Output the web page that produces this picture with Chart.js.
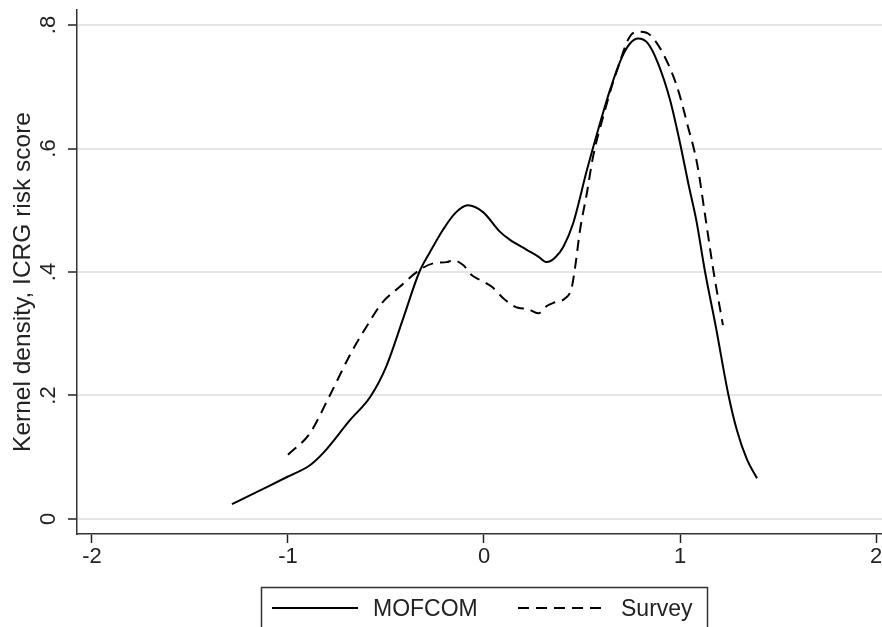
<!DOCTYPE html>
<html>
<head>
<meta charset="utf-8">
<script src="https://cdn.jsdelivr.net/npm/chart.js@4.4.1/dist/chart.umd.min.js"></script>
<style>
  html, body { margin: 0; padding: 0; background: #fff; }
  #wrap { width: 882px; height: 627px; }
</style>
</head>
<body>
<div id="wrap"><canvas id="densityChart"></canvas></div>
<script>
// Kernel density of ICRG risk score, MOFCOM vs Survey samples
const mofcomX = [-1.286, -1.158, -1.005, -0.888, -0.82, -0.684, -0.58, -0.50, -0.41, -0.33, -0.276, -0.21, -0.148, -0.082, -0.005, 0.082, 0.133, 0.218, 0.277, 0.32, 0.362, 0.405, 0.455, 0.525, 0.582, 0.643, 0.704, 0.745, 0.786, 0.837, 0.888, 0.949, 1.0, 1.046, 1.083, 1.128, 1.183, 1.245, 1.29, 1.342, 1.393];
const mofcomY = [0.024, 0.044, 0.068, 0.087, 0.107, 0.16, 0.198, 0.246, 0.327, 0.40, 0.432, 0.468, 0.495, 0.508, 0.497, 0.465, 0.452, 0.436, 0.425, 0.416, 0.423, 0.441, 0.479, 0.565, 0.63, 0.695, 0.748, 0.77, 0.778, 0.77, 0.738, 0.679, 0.609, 0.538, 0.484, 0.40, 0.311, 0.204, 0.144, 0.096, 0.066];

const surveyX = [-1.0, -0.888, -0.79, -0.68, -0.61, -0.52, -0.43, -0.33, -0.26, -0.19, -0.157, -0.105, -0.063, -0.02, 0.04, 0.107, 0.174, 0.224, 0.277, 0.32, 0.362, 0.413, 0.447, 0.465, 0.49, 0.525, 0.556, 0.617, 0.679, 0.76, 0.796, 0.847, 0.913, 0.985, 1.041, 1.087, 1.128, 1.17, 1.219];
const surveyY = [0.104, 0.139, 0.198, 0.268, 0.306, 0.35, 0.376, 0.403, 0.414, 0.416, 0.419, 0.411, 0.395, 0.387, 0.376, 0.355, 0.342, 0.340, 0.333, 0.345, 0.351, 0.357, 0.374, 0.408, 0.468, 0.528, 0.586, 0.662, 0.727, 0.787, 0.789, 0.784, 0.754, 0.70, 0.635, 0.576, 0.492, 0.403, 0.314];

const xTicks = [-2, -1, 0, 1, 2];
const yTicks = [0, 0.2, 0.4, 0.6, 0.8];
const yTickLabels = ['0', '.2', '.4', '.6', '.8'];
const seriesNames = ['MOFCOM', 'Survey'];
const yTitle = 'Kernel density, ICRG risk score';

const FONT = "'Liberation Sans', Arial, Helvetica, sans-serif";
const INK = '#222';

const toPoints = (xs, ys) => xs.map((x, i) => ({ x: x, y: ys[i] }));

// draws rotated y labels, the y title and the Stata-style legend box
const stataDecor = {
    id: 'stataDecor',
    afterDraw(chart) {
        const ctx = chart.ctx;
        const y = chart.scales.y;
        ctx.save();
        ctx.fillStyle = INK;

        // y tick labels, rotated
        ctx.font = '22px ' + FONT;
        ctx.textAlign = 'center';
        ctx.textBaseline = 'middle';
        yTicks.forEach((v, i) => {
            ctx.save();
            ctx.translate(49, y.getPixelForValue(v));
            ctx.rotate(-Math.PI / 2);
            ctx.fillText(yTickLabels[i], 0, 0);
            ctx.restore();
        });

        // y title
        ctx.font = '24.5px ' + FONT;
        ctx.save();
        ctx.translate(23, 282);
        ctx.rotate(-Math.PI / 2);
        ctx.fillText(yTitle, 0, 0);
        ctx.restore();

        // legend
        ctx.strokeStyle = '#333';
        ctx.lineWidth = 1.5;
        ctx.strokeRect(261.5, 587.5, 446, 60);

        ctx.strokeStyle = '#000';
        ctx.lineWidth = 2;
        ctx.beginPath();
        ctx.moveTo(272, 608);
        ctx.lineTo(358, 608);
        ctx.stroke();

        ctx.setLineDash([11, 7]);
        ctx.beginPath();
        ctx.moveTo(518, 608);
        ctx.lineTo(607, 608);
        ctx.stroke();
        ctx.setLineDash([]);

        ctx.font = '23px ' + FONT;
        ctx.textAlign = 'left';
        ctx.fillText(seriesNames[0], 373, 610);
        ctx.fillText(seriesNames[1], 621, 610);
        ctx.restore();
    }
};

const ctx = document.getElementById('densityChart').getContext('2d');
new Chart(ctx, {
    type: 'scatter',
    data: {
        datasets: [
            {
                label: seriesNames[0],
                data: toPoints(mofcomX, mofcomY),
                showLine: true,
                borderColor: '#000',
                borderWidth: 2,
                pointRadius: 0,
                cubicInterpolationMode: 'monotone'
            },
            {
                label: seriesNames[1],
                data: toPoints(surveyX, surveyY),
                showLine: true,
                borderColor: '#000',
                borderWidth: 2,
                borderDash: [11, 7],
                pointRadius: 0,
                cubicInterpolationMode: 'monotone'
            }
        ]
    },
    options: {
        responsive: true,
        maintainAspectRatio: false,
        animation: false,
        layout: { padding: { top: 10, right: 0, left: 0, bottom: 0 } },
        plugins: {
            legend: { display: false },
            tooltip: { enabled: false }
        },
        scales: {
            x: {
                type: 'linear',
                min: -2.0765,
                max: 2.0306,
                afterBuildTicks: (s) => { s.ticks = xTicks.map(v => ({ value: v })); },
                afterFit: (s) => { s.height = 93; s.paddingLeft = 0; s.paddingRight = 0; },
                grid: {
                    drawOnChartArea: false,
                    drawTicks: true,
                    tickLength: 9,
                    tickColor: INK,
                    tickWidth: 1.5
                },
                border: { display: true, color: '#333', width: 1.5 },
                ticks: {
                    color: INK,
                    padding: 1,
                    maxRotation: 0,
                    font: { family: FONT, size: 22 },
                    callback: (v) => String(v)
                }
            },
            y: {
                type: 'linear',
                min: -0.0243,
                max: 0.8243,
                afterBuildTicks: (s) => { s.ticks = yTicks.map(v => ({ value: v })); },
                afterFit: (s) => { s.width = 77; },
                grid: {
                    color: '#e6e6e6',
                    lineWidth: 2,
                    drawTicks: true,
                    tickLength: 9,
                    tickColor: INK,
                    tickWidth: 1.5
                },
                border: { display: true, color: '#333', width: 1.5 },
                ticks: { display: false }
            }
        }
    },
    plugins: [stataDecor]
});
</script>
</body>
</html>
